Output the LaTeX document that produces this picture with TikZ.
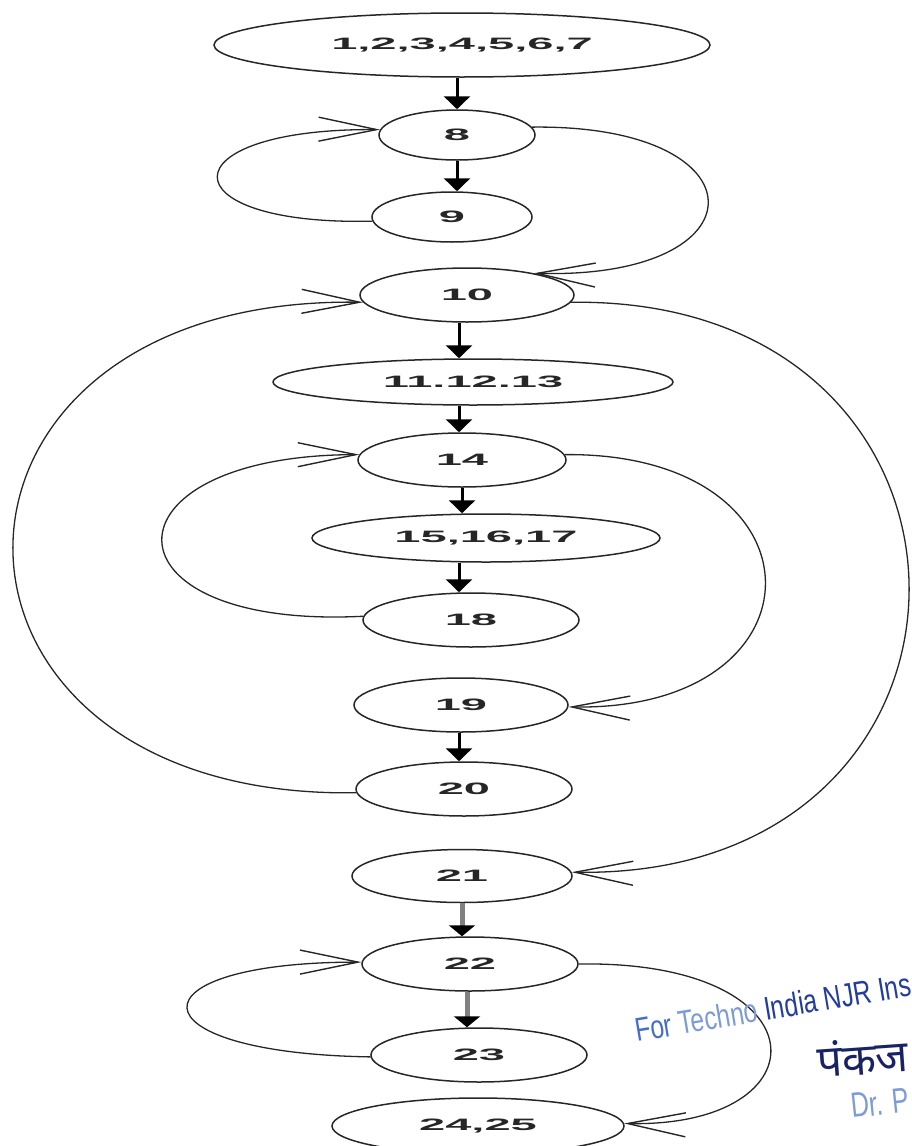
\documentclass[tikz,border=0pt]{standalone}
\usepackage{fontspec}
\setmainfont{Liberation Sans}
\newfontfamily\devfont[Script=Devanagari]{Noto Sans}
\usepackage{graphicx}
\usetikzlibrary{shapes.geometric,arrows.meta,calc}
\definecolor{stampblue}{RGB}{35,60,160}
\definecolor{stamplight}{RGB}{70,110,200}
\definecolor{stampfaint}{RGB}{125,155,215}
\definecolor{signnavy}{RGB}{25,35,100}
\newcommand{\nlbl}[1]{\scalebox{2.85}[1]{#1}}
\begin{document}
\begin{tikzpicture}[x=1pt,y=-1pt,
  blk/.style={ellipse, draw=black!85, line width=1.5pt, inner sep=0pt,
    font=\fontsize{16.5}{16.5}\selectfont\bfseries, text=black!85},
  fwd/.style={line width=3pt, -{Triangle[length=13pt,width=26pt]}},
  fwdgray/.style={draw=black!50, line width=5pt, -{Triangle[length=11pt,width=26pt,color=black]}},
  backedge/.style={line width=1.3pt, draw=black!85, -{Straight Barb[length=58pt,width=24pt,line width=1.4pt]}},
  stamptext/.style={anchor=base west, inner sep=0pt}
]
\useasboundingbox (0,0) rectangle (911,1146);
\clip (0,0) rectangle (911,1146);

% columns used by the vertical arrows
\coordinate (c459) at (459,0);
\coordinate (c467) at (467,0);

% nodes
\node[blk, minimum width=496pt, minimum height=64pt] (n1) at (462,45) {\nlbl{1,2,3,4,5,6,7}};
\node[blk, minimum width=156pt, minimum height=50pt] (n8) at (457,135) {\nlbl{8}};
\node[blk, minimum width=160pt, minimum height=50pt] (n9) at (452,217) {\nlbl{9}};
\node[blk, minimum width=214pt, minimum height=54pt] (n10) at (467,295) {\nlbl{10}};
\node[blk, minimum width=400pt, minimum height=46pt] (n11) at (473,382) {\nlbl{11.12.13}};
\node[blk, minimum width=208pt, minimum height=54pt] (n14) at (462,460) {\nlbl{14}};
\node[blk, minimum width=348pt, minimum height=48pt] (n15) at (486,538) {\nlbl{15,16,17}};
\node[blk, minimum width=216pt, minimum height=54pt] (n18) at (471,620) {\nlbl{18}};
\node[blk, minimum width=214pt, minimum height=54pt] (n19) at (461,705) {\nlbl{19}};
\node[blk, minimum width=216pt, minimum height=54pt] (n20) at (464,789) {\nlbl{20}};
\node[blk, minimum width=220pt, minimum height=53pt] (n21) at (462,876) {\nlbl{21}};
\node[blk, minimum width=216pt, minimum height=54pt] (n22) at (470,964) {\nlbl{22}};
\node[blk, minimum width=216pt, minimum height=54pt] (n23) at (479,1055) {\nlbl{23}};
\node[blk, minimum width=292pt, minimum height=56pt] (n24) at (478,1126) {\nlbl{24,25}};

% straight forward arrows
\draw[fwd] (n8.north |- n1.south) -- (n8.north);
\draw[fwd] (n8.south) -- (n8.south |- n9.north);
\draw[fwd] (c459 |- n10.south) -- (c459 |- n11.north);
\draw[fwd] (c459 |- n11.south) -- (c459 |- n14.north);
\draw[fwd] (n14.south) -- (n14.south |- n15.north);
\draw[fwd] (c459 |- n15.south) -- (c459 |- n18.north);
\draw[fwd] (c459 |- n19.south) -- (c459 |- n20.north);
\draw[fwdgray] (n21.south) -- (n21.south |- n22.north);
\draw[fwdgray] (c467 |- n22.south) -- (c467 |- n23.north);

% back edges
\draw[backedge] (n9.183) .. controls (165,226) and (165,128) .. (n8.176);
\draw[backedge] (n8.6) .. controls (766,124) and (766,280) .. (n10.18);
\draw[backedge] (n20.182) .. controls (-102,800) and (-102,295) .. (n10.184);
\draw[backedge] (n10.-4) .. controls (1021,296) and (1021,880) .. (n21.2);
\draw[backedge] (n18.178) .. controls (96,630) and (96,455) .. (n14.177);
\draw[backedge] (n14.3) .. controls (831,452) and (831,712) .. (n19.-1);
\draw[backedge] (n23.181) .. controls (128,1053) and (128,962) .. (n22.179);
\draw[backedge] (n22.0) .. controls (826,960) and (826,1128) .. (n24.1);

% stamp
\node[stamptext, rotate=9.5, font=\fontsize{33}{33}\selectfont] (stamp) at (637,1042)
  {\scalebox{0.75}[1]{\textcolor{stamplight}{For}\ \textcolor{stampfaint}{Techno}\ \textcolor{stampblue}{India NJR Ins}}};
\node[stamptext, rotate=4, text=signnavy, font=\devfont\fontsize{44}{44}\selectfont] (sign) at (818,1078) {पंकज};
\node[stamptext, rotate=6, text=stampfaint, font=\fontsize{35}{35}\selectfont] (drp) at (852,1118) {\scalebox{0.72}[1]{Dr. P}};
\end{tikzpicture}
\end{document}
